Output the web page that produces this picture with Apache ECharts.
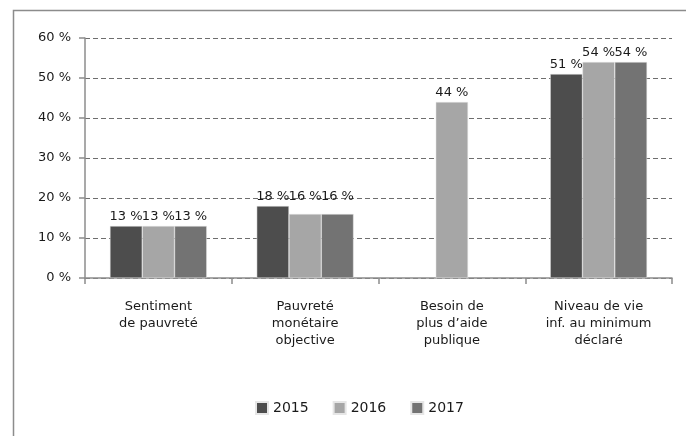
<!DOCTYPE html>
<html>
<head>
<meta charset="utf-8">
<script src="https://cdn.jsdelivr.net/npm/echarts@6/dist/echarts.min.js"></script>
<style>
  html, body { margin: 0; padding: 0; background: #fff; }
  #chart { width: 686px; height: 436px; }
</style>
</head>
<body>
<div id="chart"></div>
<script>
var categories = ['Sentiment\nde pauvreté', 'Pauvreté\nmonétaire\nobjective', 'Besoin de\nplus d\u2019aide\npublique', 'Niveau de vie\ninf. au minimum\ndéclaré'];
var years = ['2015', '2016', '2017'];
var values2015 = [13, 18, null, 51];
var values2016 = [13, 16, 44, 54];
var values2017 = [13, 16, null, 54];
var colors = ['#4d4d4d', '#a6a6a6', '#737373'];

var font = 'DejaVu Sans';
var chart = echarts.init(document.getElementById('chart'));

// in the 2nd group the labels of 2016/2017 sit at the same height as 2015
var labelLift = { '1-1': 8, '2-1': 8 };

function makeSerie(i, data) {
  var items = data.map(function (v, j) {
    var lift = labelLift[i + '-' + j];
    if (!lift) return v;
    return { value: v, label: { offset: [0, -lift] } };
  });
  return {
    name: years[i],
    type: 'bar',
    data: items,
    barGap: '0%',
    barCategoryGap: '34%',
    itemStyle: { color: colors[i], borderColor: '#e6e6e6', borderWidth: 0.5 },
    label: {
      show: true,
      position: 'top',
      distance: 3,
      color: '#1a1a1a',
      fontFamily: font,
      fontSize: 13,
      formatter: function (p) { return p.value + ' %'; }
    }
  };
}

chart.setOption({
  animation: false,
  textStyle: { fontFamily: font },
  graphic: [{
    type: 'rect',
    shape: { x: 13.5, y: 10.5, width: 720, height: 500 },
    style: { fill: 'none', stroke: '#8c8c8c', lineWidth: 1.5 },
    silent: true
  }],
  grid: { left: 85, right: 14, top: 38, bottom: 158 },
  legend: {
    top: 396,
    left: 250,
    icon: 'rect',
    itemWidth: 12,
    itemHeight: 12,
    itemGap: 24,
    textStyle: { fontFamily: font, fontSize: 14, color: '#1a1a1a' },
    data: years
  },
  xAxis: {
    type: 'category',
    data: categories,
    axisLine: { lineStyle: { color: '#8c8c8c', width: 1.5 } },
    axisTick: { show: true, length: 6, lineStyle: { color: '#8c8c8c', width: 1.5 } },
    axisLabel: { margin: 20, color: '#1a1a1a', fontFamily: font, fontSize: 13, lineHeight: 17, interval: 0 }
  },
  yAxis: {
    type: 'value',
    min: 0,
    max: 60,
    interval: 10,
    axisLine: { show: true, lineStyle: { color: '#8c8c8c', width: 1.5 } },
    axisTick: { show: true, length: 6, lineStyle: { color: '#8c8c8c', width: 1.5 } },
    axisLabel: { margin: 14, color: '#1a1a1a', fontFamily: font, fontSize: 13, formatter: '{value} %' },
    splitLine: { lineStyle: { color: '#6e6e6e', type: [5, 3], width: 1 } }
  },
  series: [
    makeSerie(0, values2015),
    makeSerie(1, values2016),
    makeSerie(2, values2017)
  ]
});
</script>
</body>
</html>
